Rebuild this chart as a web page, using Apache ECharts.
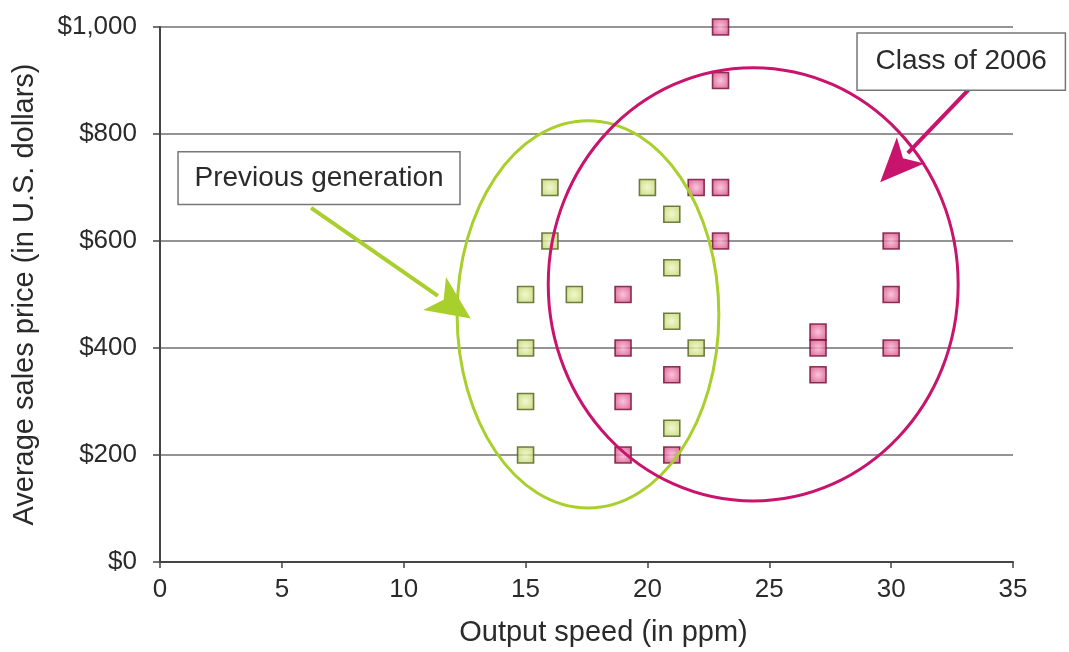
<!DOCTYPE html>
<html>
<head>
<meta charset="utf-8">
<script src="https://cdn.jsdelivr.net/npm/echarts@6/dist/echarts.min.js"></script>
<style>html,body{margin:0;padding:0;background:#fff}#c{width:1069px;height:652px}</style>
</head>
<body>
<div id="c"></div>
<script>
// Data (output speed in ppm, average price in USD)
var prevGenSpeed = [16, 16, 20, 21, 21, 15, 17, 21, 15, 22, 15, 21, 15];
var prevGenPrice = [700, 600, 700, 650, 550, 500, 500, 450, 400, 400, 300, 250, 200];
var class2006Speed = [23, 23, 22, 23, 23, 30, 30, 30, 27, 27, 27, 19, 19, 21, 19, 19, 21];
var class2006Price = [1000, 900, 700, 700, 600, 600, 500, 400, 430, 400, 350, 500, 400, 350, 300, 200, 200];
var xTicks = [0, 5, 10, 15, 20, 25, 30, 35];
var yTicks = [0, 200, 400, 600, 800, 1000];
var labelPrev = 'Previous generation';
var labelClass = 'Class of 2006';

function pairs(xs, ys) { return xs.map(function (x, i) { return [x, ys[i]]; }); }

var FONT = 'Liberation Sans, Arial, sans-serif';
function grad(c0, c1) {
  return { type: 'radial', x: 0.5, y: 0.5, r: 0.7, colorStops: [{ offset: 0, color: c0 }, { offset: 1, color: c1 }] };
}

var chart = echarts.init(document.getElementById('c'), null, { renderer: 'canvas' });
chart.setOption({
  animation: false,
  backgroundColor: '#fff',
  grid: { left: 160, right: 56, top: 27, bottom: 89, containLabel: false },
  xAxis: {
    type: 'value', min: 0, max: 35, interval: 5,
    name: 'Output speed (in ppm)', nameLocation: 'middle', nameGap: 56,
    nameTextStyle: { fontFamily: FONT, fontSize: 29, color: '#2a2a2a', padding: [0, 0, 0, 34] },
    axisLine: { lineStyle: { color: '#444', width: 2 } },
    axisTick: { show: true, length: 6, lineStyle: { color: '#444', width: 1.5 } },
    axisLabel: { fontFamily: FONT, fontSize: 26, color: '#2a2a2a', margin: 15 },
    splitLine: { show: false }
  },
  yAxis: {
    type: 'value', min: 0, max: 1000, interval: 200,
    name: 'Average sales price (in U.S. dollars)', nameLocation: 'middle', nameGap: 121, nameRotate: 90,
    nameTextStyle: { fontFamily: FONT, fontSize: 29, color: '#2a2a2a' },
    axisLine: { show: true, lineStyle: { color: '#444', width: 2 } },
    axisTick: { show: true, length: 7, lineStyle: { color: '#444', width: 1.5 } },
    axisLabel: { fontFamily: FONT, fontSize: 26, color: '#2a2a2a', margin: 23,
      formatter: function (v) { return '$' + v.toLocaleString('en-US'); } },
    splitLine: { show: true, lineStyle: { color: '#707070', width: 1.6 } }
  },
  series: [
    {
      name: labelPrev, type: 'scatter', symbol: 'rect', symbolSize: 16, z: 5,
      data: pairs(prevGenSpeed, prevGenPrice),
      itemStyle: { color: grad('#eef5c4', '#b9cf52'), borderColor: '#4f5e22', borderWidth: 1.6 }
    },
    {
      name: labelClass, type: 'scatter', symbol: 'rect', symbolSize: 16, z: 5,
      data: pairs(class2006Speed, class2006Price),
      itemStyle: { color: grad('#f8b6d4', '#d0336f'), borderColor: '#6e0c34', borderWidth: 1.6 }
    }
  ]
});

// Annotations placed in data coordinates
function px(x, y) { return chart.convertToPixel({ gridIndex: 0 }, [x, y]); }
function ellipseEl(cx, cy, rx, ry) {
  var c = px(cx, cy), e = px(cx + rx, cy + ry);
  var RX = Math.abs(e[0] - c[0]), RY = Math.abs(e[1] - c[1]);
  return { type: 'ellipse', shape: { cx: c[0], cy: c[1], rx: RX, ry: RY } };
}
function arrow(x1, y1, x2, y2, color, w, headLen, headW) {
  var a = px(x1, y1), b = px(x2, y2);
  var dx = b[0] - a[0], dy = b[1] - a[1], L = Math.sqrt(dx * dx + dy * dy);
  var ux = dx / L, uy = dy / L, nx = -uy, ny = ux;
  var base = [b[0] - ux * headLen, b[1] - uy * headLen];
  return [
    { type: 'line', shape: { x1: a[0], y1: a[1], x2: base[0] + ux * 4, y2: base[1] + uy * 4 },
      style: { stroke: color, lineWidth: w }, z: 20 },
    { type: 'polygon', shape: { points: [
      [b[0], b[1]],
      [base[0] + nx * headW / 2, base[1] + ny * headW / 2],
      [base[0] + ux * headLen * 0.25, base[1] + uy * headLen * 0.25],
      [base[0] - nx * headW / 2, base[1] - ny * headW / 2]
    ] }, style: { fill: color }, z: 20 }
  ];
}
function box(x1, y1, x2, y2, text) {
  var a = px(x1, y1), b = px(x2, y2);
  return [
    { type: 'rect', shape: { x: a[0], y: a[1], width: b[0] - a[0], height: b[1] - a[1] },
      style: { fill: '#fff', stroke: '#777', lineWidth: 1.5 }, z: 30 },
    { type: 'text', x: (a[0] + b[0]) / 2, y: (a[1] + b[1]) / 2, z: 31,
      style: { text: text, fill: '#2a2a2a', font: '28px ' + FONT, align: 'center', verticalAlign: 'middle' } }
  ];
}

var green = '#a9cf2c', pink = '#c8146c';
var ge = ellipseEl(17.56, 463, 5.37, 362);
ge.style = { fill: 'none', stroke: green, lineWidth: 3 }; ge.z = 10;
var pe = ellipseEl(24.34, 519, 8.41, 405);
pe.style = { fill: 'none', stroke: pink, lineWidth: 3 }; pe.z = 10;

var els = [ge, pe]
  .concat(arrow(6.2, 662, 12.75, 455, green, 4, 44, 40))
  .concat(arrow(33.2, 884, 29.55, 710, pink, 4, 44, 38))
  .concat(box(0.74, 767, 12.31, 668, labelPrev))
  .concat(box(28.6, 989, 37.15, 882, labelClass));
chart.setOption({ graphic: els });
</script>
</body>
</html>
